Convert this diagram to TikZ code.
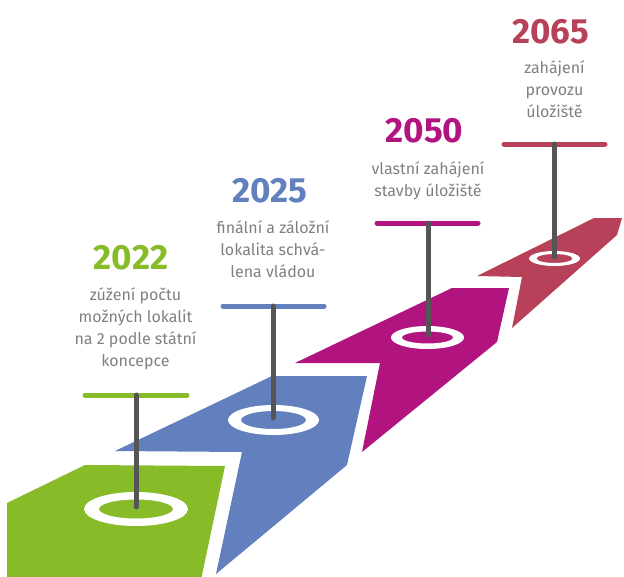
\documentclass[tikz,border=0pt]{standalone}
\usepackage{fontspec}
\setmainfont{Fira Sans}
\definecolor{cgreen}{HTML}{88BB28}
\definecolor{cblue}{HTML}{6180BD}
\definecolor{cmag}{HTML}{B1137F}
\definecolor{cred}{HTML}{B8415A}
\definecolor{cpole}{HTML}{555555}
\definecolor{ctext}{HTML}{808080}
\newcommand{\desclines}[1]{\setlength{\tabcolsep}{0pt}\begin{tabular}[t]{c}#1\end{tabular}}
\begin{document}
\begin{tikzpicture}[x=1pt,y=-1pt,
  year/.style={font=\fontsize{35}{40}\selectfont\bfseries, anchor=base, inner sep=0pt},
  desc/.style={font=\fontsize{16}{22}\selectfont, text=ctext, anchor=base, inner sep=0pt},
  ring/.style={fill=white, even odd rule},
  pole/.style={draw=cpole, line width=5pt, line cap=round},
  bar/.style={line width=5pt, line cap=round}]
\useasboundingbox (0,0) rectangle (624,576);
\begin{scope}
\clip (0,0) rectangle (624,576);
% bands
\fill[cgreen] (7,503) -- (85,465) -- (225,466) -- (201,580) -- (7,580) -- cycle;
\fill[cblue] (115,451) -- (272,376) -- (367,376) -- (347,465) -- (216,574) -- (242,452) -- cycle;
\fill[cmag] (295,363) -- (452,288) -- (509,288) -- (497,342) -- (362,452) -- (380,363) -- cycle;
\fill[cred] (477,276) -- (594,218) -- (622,218) -- (617,235) -- (512,328) -- (522,277) -- cycle;
\end{scope}
% rings
\fill[ring] (136,509) ellipse [x radius=52,y radius=17] (136,509) ellipse [x radius=37,y radius=9.5];
\fill[ring] (273.5,420) ellipse [x radius=45.5,y radius=15] (273.5,420) ellipse [x radius=32.5,y radius=9];
\fill[ring] (427.5,337.5) ellipse [x radius=36.5,y radius=11.5] (427.5,337.5) ellipse [x radius=25.5,y radius=6];
\fill[ring] (554.5,258.5) ellipse [x radius=25.5,y radius=7.5] (554.5,258.5) ellipse [x radius=18,y radius=4.5];
% coordinates
\coordinate (gt) at (136,395); \coordinate (gb) at (136,507);
\coordinate (gl) at (85,395);  \coordinate (gr) at (187,395);
\coordinate (bt) at (273,306); \coordinate (bb) at (273,418);
\coordinate (bl) at (223,306); \coordinate (br) at (324,306);
\coordinate (mt) at (428,223); \coordinate (mb) at (428,335);
\coordinate (ml) at (377,223); \coordinate (mr) at (478,223);
\coordinate (rt) at (554.5,144); \coordinate (rb) at (554.5,257);
\coordinate (rl) at (504,144); \coordinate (rr) at (605,144);
% bars and poles
\draw[bar,cgreen] (gl) -- (gr);
\draw[bar,cblue] (bl) -- (br);
\draw[bar,cmag] (ml) -- (mr);
\draw[bar,cred] (rl) -- (rr);
\draw[pole] (gt) -- (gb);
\draw[pole] (bt) -- (bb);
\draw[pole] (mt) -- (mb);
\draw[pole] (rt) -- (rb);
% texts
\node[year,text=cgreen] (y1) at (131,269) {2022};
\node[desc] (d1) at (135.5,300) {\desclines{zúžení počtu\\možných lokalit\\na 2 podle státní\\koncepce}};
\node[year,text=cblue] (y2) at (270,202) {2025};
\node[desc] (d2) at (273,233) {\desclines{finální a záložní\\lokalita schvá-\\lena vládou}};
\node[year,text=cmag] (y3) at (424.5,142) {2050};
\node[desc] (d3) at (428,174) {\desclines{vlastní zahájení\\stavby úložiště}};
\node[year,text=cred] (y4) at (550.5,43) {2065};
\node[desc] (d4) at (554.5,73) {\desclines{zahájení\\provozu\\úložiště}};
\end{tikzpicture}
\end{document}
